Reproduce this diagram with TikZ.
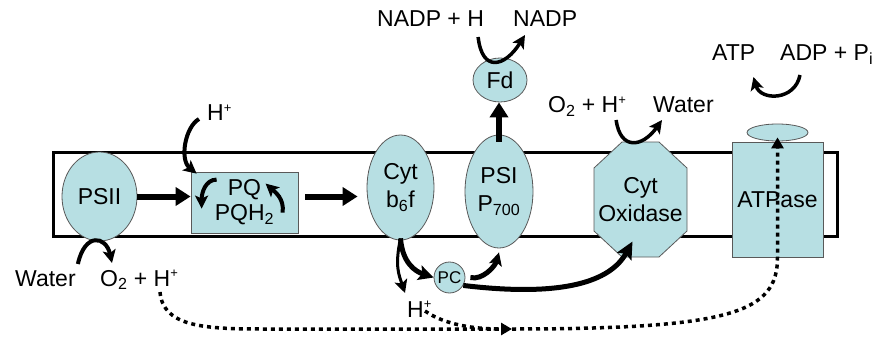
\documentclass[tikz,border=0pt]{standalone}
\usepackage{fontspec}
\setmainfont{Liberation Sans}
\usetikzlibrary{arrows.meta,shapes.geometric}
\definecolor{cell}{HTML}{B7DFE3}
\newcommand{\hplus}{H\raisebox{8.5pt}{\fontsize{13}{13}\selectfont +}}

\begin{document}
\begin{tikzpicture}[x=1pt, y=-1pt,
  font=\fontsize{23}{28}\selectfont,
  prot/.style={draw=black!65, line width=0.8pt, fill=cell, inner sep=0pt, align=center},
  ov/.style={prot, ellipse},
  lbl/.style={inner sep=0pt, anchor=base west},
  big/.style={line width=6pt, -{Triangle[length=15pt,width=18pt]}},
  curvy/.style={line width=4pt, -{Stealth[length=13pt,width=13pt,inset=3pt]}},
  proton/.style={line width=3.5pt, dash pattern=on 4pt off 4pt}]
  \useasboundingbox (0,0) rectangle (884,337);
  \node[draw, line width=3pt, minimum width=784pt, minimum height=84pt, inner sep=0pt] (mem) at (445,194) {};
  \node[ov, minimum width=75pt, minimum height=89pt] (psii) at (99.5,196.5) {PSII};
  \node[prot, rectangle, minimum width=107pt, minimum height=61pt, font=\fontsize{23}{25}\selectfont] (pq) at (244.5,202.5) {PQ\\PQH\textsubscript{2}};
  \node[ov, minimum width=67pt, minimum height=105pt] (cyt) at (400.5,187.5) {Cyt\\b\textsubscript{6}f};
  \node[ov, minimum width=68pt, minimum height=113pt] (psi) at (499,191.5) {PSI\\P\textsubscript{700}};
  \node[ov, minimum width=54pt, minimum height=44pt] (fd) at (500,80) {Fd};
  \node[prot, circle, minimum size=31pt, font=\fontsize{17}{17}\selectfont] (pc) at (449.5,277.5) {PC};
  \draw[prot] (622,142) -- (659,142) -- (687,168) -- (687,231) -- (659,257) -- (622,257) -- (594,231) -- (594,168) -- cycle;
  \node[inner sep=0pt, align=center, minimum width=93pt, minimum height=115pt] (cox) at (640.5,199.5) {Cyt\\Oxidase};
  \node[prot, rectangle, minimum width=91pt, minimum height=115pt] (atp) at (777.5,199.5) {ATPase};
  \node[ov, minimum width=61pt, minimum height=17pt] (head) at (777.5,132.5) {};
  \node[lbl] (nadph) at (377,27) {NADP + H};
  \node[lbl] (nadp) at (513,27) {NADP};
  \node[lbl] (o2t) at (548,113) {O\textsubscript{2} + \hplus};
  \node[lbl] (watert) at (653,113) {Water};
  \node[lbl] (atpl) at (712,61) {ATP};
  \node[lbl] (adpl) at (780,61) {ADP + P\textsubscript{i}};
  \node[lbl] (htop) at (207,121) {\hplus};
  \node[lbl] (waterb) at (15,286) {Water};
  \node[lbl] (o2b) at (100,286) {O\textsubscript{2} + \hplus};
  \node[lbl] (hcyt) at (407,317) {\hplus};
  \coordinate (pool) at (512,329);
  \draw[big] (psii.east) -- (psii.east -| pq.west);
  \draw[big] ([xshift=7pt]pq.east |- psii.east) -- ([xshift=-9pt]psii.east -| cyt.west);
  \draw[big] ([yshift=-7pt]psi.north) -- (psi.north |- fd.south);
  \draw[curvy] ([shift={(-8pt,2pt)}]htop.base west) .. controls +(-14,8) and +(-17,-14) .. ([shift={(6pt,-2pt)}]pq.north west);
  \draw[curvy] ([shift={(26pt,-8pt)}]pq.north west) .. controls +(-11,0) and +(0,-16) .. ([shift={(11pt,-37pt)}]pq.north west);
  \draw[curvy] ([shift={(92pt,-41pt)}]pq.north west) .. controls +(2,-14) and +(9,8) .. ([shift={(75pt,-12pt)}]pq.north west);
  \draw[curvy] ([shift={(2pt,22pt)}]waterb.base east) .. controls +(7,-32) and +(-6,-27) .. ([shift={(12pt,23pt)}]o2b.base west);
  \draw[curvy, line width=5pt, -{Stealth[length=15pt,width=15pt,inset=3pt]}] ([yshift=2pt]cyt.south) .. controls +(2,25) and +(-18,-6) .. (pc.west);
  \draw[curvy, line width=3pt] ([yshift=2pt]cyt.south) .. controls +(-6,28) and +(-6,-18) .. ([shift={(-2pt,24pt)}]hcyt.base west);
  \draw[curvy, line width=5pt] ([xshift=5pt]pc.east) .. controls +(12,3) and +(-4,14) .. ([yshift=-4pt]psi.south);
  \draw[curvy, line width=5pt, -{Stealth[length=17pt,width=16pt,inset=3pt]}] (pc.-30) .. controls +(100,12) and +(-22,40) .. ([shift={(-8pt,-42pt)}]cox.center);
  \draw[curvy, line width=3.5pt] ([shift={(-6pt,-10pt)}]nadph.base east) .. controls +(4,36) and +(-20,32) .. ([shift={(12pt,-8pt)}]nadp.base west);
  \draw[curvy, line width=3.5pt] ([shift={(-10pt,-7pt)}]o2t.base east) .. controls +(4,30) and +(-20,28) .. ([shift={(9pt,-7pt)}]watert.base west);
  \draw[curvy, line width=3.5pt] ([shift={(20pt,-14pt)}]adpl.base west) .. controls +(-5,26) and +(7,24) .. ([shift={(-2pt,-16pt)}]atpl.base east);
  \draw[proton, -{Triangle[length=11pt,width=12pt]}] ([shift={(60pt,-6pt)}]o2b.base west) .. controls +(3,34) and +(-60,0) .. ([xshift=-250pt]pool) -- (pool);
  \draw[proton] ([shift={(18pt,6pt)}]hcyt.base west) .. controls +(20,14) and +(-25,0) .. ([xshift=-12pt]pool);
  \draw[proton, -{Triangle[length=11pt,width=12pt]}] (pool) .. controls +(220,0) and +(0,55) .. (atp.south) -- ([yshift=4pt]head.south);
\end{tikzpicture}
\end{document}
